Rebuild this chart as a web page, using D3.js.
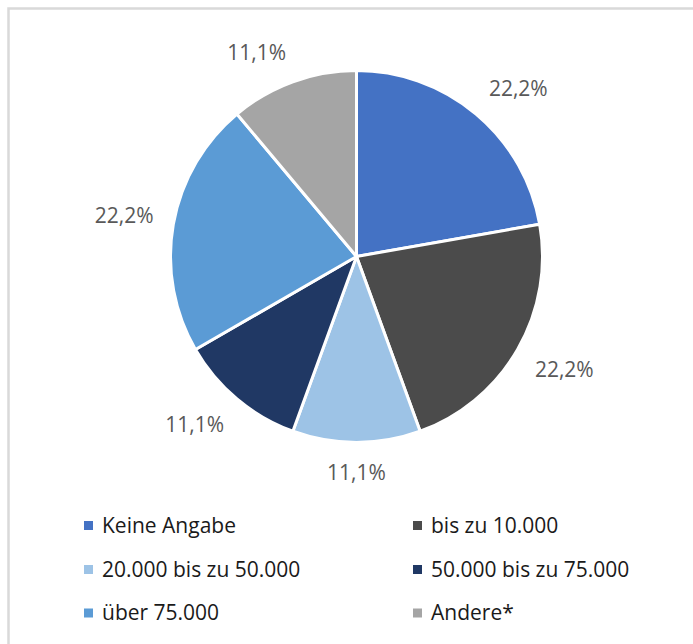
<!DOCTYPE html>
<html>
<head>
<meta charset="utf-8">
<script src="https://cdn.jsdelivr.net/npm/d3@7/dist/d3.min.js"></script>
<style>
  html, body { margin: 0; padding: 0; background: #fff; }
  svg { display: block; font-family: "Open Sans", sans-serif; }
</style>
</head>
<body>
<svg id="chart" width="693" height="644"></svg>
<script>
// Income groups and their shares (percent)
const categories = ["Keine Angabe", "bis zu 10.000", "20.000 bis zu 50.000", "50.000 bis zu 75.000", "über 75.000", "Andere*"];
const shares = [22.2, 22.2, 11.1, 11.1, 22.2, 11.1];
const colors = ["#4472C4", "#4B4B4B", "#9DC3E6", "#203864", "#5B9BD5", "#A5A5A5"];

const svg = d3.select("#chart");

// Chart frame
svg.append("rect")
  .attr("x", 8.5).attr("y", 8.5)
  .attr("width", 720).attr("height", 720)
  .attr("fill", "#fff")
  .attr("stroke", "#D9D9D9").attr("stroke-width", 2.5);

const cx = 356.5, cy = 256.5, radius = 186;
const data = categories.map((c, i) => ({ name: c, value: shares[i], color: colors[i] }));

const pie = d3.pie().value(d => d.value).sort(null);
const arc = d3.arc().innerRadius(0).outerRadius(radius);
const arcs = pie(data);

const g = svg.append("g").attr("transform", `translate(${cx},${cy})`);

g.selectAll("path.slice")
  .data(arcs)
  .join("path")
  .attr("class", "slice")
  .attr("d", arc)
  .attr("fill", d => d.data.color)
  .attr("stroke", "#fff")
  .attr("stroke-width", 3)
  .attr("stroke-linejoin", "round");

// Percent labels placed just outside each slice
const fmt = v => d3.format(".1f")(v).replace(".", ",") + "%";
const gap = 20, labelH = 21;
g.selectAll("text.pct")
  .data(arcs)
  .join("text")
  .attr("class", "pct")
  .attr("text-anchor", "middle")
  .attr("dy", "0.35em")
  .attr("font-size", 21)
  .attr("fill", "#595959")
  .text(d => fmt(d.data.value))
  .each(function(d) {
    const a = (d.startAngle + d.endAngle) / 2;
    const w = this.getComputedTextLength();
    const s = Math.sin(a), c = Math.cos(a);
    const px = (radius + gap) * s, py = -(radius + gap) * c;
    const ox = Math.max(-1, Math.min(1, s * 3)) * w / 2;
    const oy = Math.max(-1, Math.min(1, -c * 3)) * labelH / 2;
    d3.select(this).attr("x", px + ox).attr("y", py + oy);
  });

// Legend: two columns, three rows
const legendCols = [84, 413], legendRows = [525.5, 569.5, 613];
const leg = svg.append("g");
const items = leg.selectAll("g.item")
  .data(data)
  .join("g")
  .attr("class", "item")
  .attr("transform", (d, i) => `translate(${legendCols[i % 2]},${legendRows[Math.floor(i / 2)]})`);
items.append("rect")
  .attr("x", 0).attr("y", -4.5)
  .attr("width", 9).attr("height", 9)
  .attr("fill", d => d.color);
items.append("text")
  .attr("x", 18).attr("dy", "0.35em")
  .attr("font-size", 21)
  .attr("fill", "#1A1A1A")
  .text(d => d.name);
</script>
</body>
</html>
